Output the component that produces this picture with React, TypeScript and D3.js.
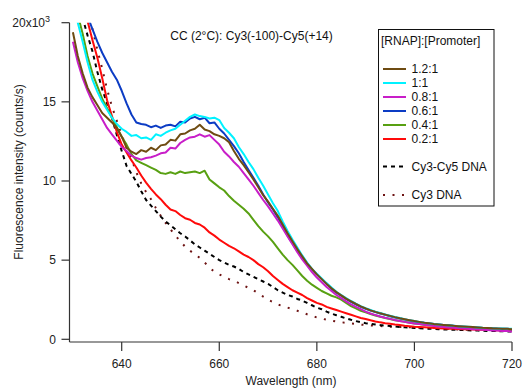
import React from "react";
import * as d3 from "d3";

const wavelength = [
  630, 631, 632, 633, 634, 635, 636, 637, 638, 639,
  640, 641, 642, 643, 644, 645, 646, 647, 648, 649,
  650, 651, 652, 653, 654, 655, 656, 657, 658, 659,
  660, 661, 662, 663, 664, 665, 666, 667, 668, 669,
  670, 671, 672, 673, 674, 675, 676, 677, 678, 679,
  680, 681, 682, 683, 684, 685, 686, 687, 688, 689,
  690, 691, 692, 693, 694, 695, 696, 697, 698, 699,
  700, 701, 702, 703, 704, 705, 706, 707, 708, 709,
  710, 711, 712, 713, 714, 715, 716, 717, 718, 719,
  720,
];

// values in thousands of counts/s
const ratio12 = [
  19.4, 17.9, 16.8, 15.9, 15.3, 14.8, 14.3, 14.0, 13.7, 13.35,
  12.8, 12.1, 11.85, 11.7, 11.95, 11.85, 12.1, 11.95, 12.25, 12.3,
  12.6, 12.55, 12.95, 13.0, 13.2, 13.3, 13.55, 13.25, 13.15, 12.95,
  12.85, 12.7, 12.45, 11.9, 11.4, 11.0, 10.55, 10.1, 9.6, 9.1,
  8.7, 8.25, 7.8, 7.25, 6.7, 6.2, 5.7, 5.25, 4.8, 4.45,
  4.1, 3.8, 3.5, 3.22, 2.98, 2.77, 2.57, 2.4, 2.23, 2.08,
  1.95, 1.83, 1.73, 1.64, 1.56, 1.48, 1.4, 1.33, 1.27, 1.21,
  1.15, 1.1, 1.05, 1.01, 0.97, 0.94, 0.91, 0.88, 0.85, 0.83,
  0.81, 0.79, 0.77, 0.75, 0.73, 0.72, 0.7, 0.69, 0.67, 0.66,
  0.64,
];
const ratio10 = [
  21.2, 20.0, 18.8, 17.5, 16.4, 15.65, 15.0, 14.5, 14.0, 13.6,
  13.3, 13.1, 12.85, 12.9, 12.7, 12.75, 12.6, 12.95, 12.85, 13.05,
  13.2, 13.3, 13.55, 13.8, 14.05, 14.2, 14.1, 14.05, 13.95, 14.0,
  13.85, 13.35, 13.05, 12.7, 12.15, 11.7, 11.2, 10.75, 10.2, 9.7,
  9.15, 8.6, 8.1, 7.45, 6.85, 6.3, 5.8, 5.3, 4.85, 4.45,
  4.15, 3.85, 3.55, 3.27, 3.0, 2.8, 2.6, 2.42, 2.25, 2.1,
  1.97, 1.85, 1.75, 1.66, 1.57, 1.49, 1.41, 1.34, 1.27, 1.21,
  1.15, 1.1, 1.05, 1.01, 0.97, 0.94, 0.91, 0.88, 0.86, 0.83,
  0.81, 0.79, 0.77, 0.75, 0.73, 0.72, 0.7, 0.69, 0.68, 0.67,
  0.66,
];
const ratio08 = [
  18.8, 17.5, 16.5, 15.7, 15.0, 14.45, 13.9, 13.35, 12.95, 12.55,
  12.15, 11.9, 11.6, 11.45, 11.35, 11.45, 11.5, 11.6, 11.75, 11.8,
  12.1, 12.05, 12.4, 12.6, 12.75, 12.8, 12.95, 12.8, 12.9, 12.6,
  12.3, 11.85, 11.55, 11.2, 10.9, 10.5, 10.1, 9.7, 9.25, 8.8,
  8.4, 7.95, 7.5, 7.0, 6.5, 6.0, 5.5, 5.05, 4.65, 4.25,
  3.9, 3.6, 3.3, 3.05, 2.8, 2.6, 2.4, 2.2, 2.05, 1.9,
  1.75, 1.63, 1.53, 1.44, 1.36, 1.29, 1.22, 1.16, 1.1, 1.05,
  1.0, 0.96, 0.92, 0.88, 0.84, 0.81, 0.78, 0.75, 0.73, 0.7,
  0.68, 0.66, 0.64, 0.62, 0.6, 0.58, 0.56, 0.55, 0.53, 0.52,
  0.5,
];
const ratio06 = [
  22.8, 22.0, 21.2, 20.4, 19.6, 18.8, 18.1, 17.5, 16.9, 16.4,
  15.7, 14.9, 14.2, 13.7, 13.6, 13.55, 13.4, 13.5, 13.35, 13.5,
  13.55, 13.45, 13.75, 13.7, 13.95, 14.05, 13.9, 14.0, 13.65, 13.7,
  13.3, 13.0, 12.6, 12.2, 11.75, 11.2, 10.7, 10.2, 9.7, 9.15,
  8.65, 8.2, 7.7, 7.1, 6.55, 6.05, 5.6, 5.15, 4.8, 4.4,
  4.1, 3.8, 3.5, 3.2, 2.95, 2.75, 2.55, 2.37, 2.2, 2.05,
  1.93, 1.82, 1.72, 1.63, 1.55, 1.46, 1.38, 1.32, 1.25, 1.19,
  1.13, 1.08, 1.04, 1.0, 0.96, 0.93, 0.9, 0.88, 0.85, 0.82,
  0.8, 0.78, 0.76, 0.74, 0.72, 0.71, 0.7, 0.68, 0.67, 0.66,
  0.64,
];
const ratio04 = [
  21.6, 20.5, 19.3, 17.9, 16.8, 16.0, 15.2, 14.6, 14.0, 13.4,
  12.8, 12.3, 11.7, 11.3, 11.15, 11.0, 10.85, 10.7, 10.5, 10.45,
  10.55, 10.45, 10.6, 10.5, 10.55, 10.6, 10.5, 10.65, 10.1, 9.85,
  9.6, 9.4, 9.05, 8.75, 8.5, 8.25, 7.95, 7.55, 7.15, 6.8,
  6.5, 6.15, 5.75, 5.35, 5.0, 4.7, 4.35, 4.0, 3.7, 3.45,
  3.25, 3.05, 2.9, 2.75, 2.65, 2.5, 2.3, 2.1, 1.95, 1.8,
  1.7, 1.6, 1.5, 1.42, 1.35, 1.28, 1.2, 1.15, 1.1, 1.05,
  1.0, 0.96, 0.92, 0.89, 0.86, 0.83, 0.8, 0.78, 0.76, 0.74,
  0.72, 0.7, 0.68, 0.67, 0.66, 0.64, 0.63, 0.62, 0.61, 0.6,
  0.59,
];
const ratio02 = [
  24.0, 22.7, 21.4, 20.1, 18.9, 17.8, 16.5, 15.1, 14.1, 13.1,
  12.3, 11.8, 11.3, 10.85, 10.35, 9.9, 9.5, 9.15, 8.85, 8.5,
  8.2, 8.1, 7.85, 7.65, 7.55, 7.35, 7.25, 7.05, 6.75, 6.55,
  6.3, 6.1, 5.9, 5.75, 5.55, 5.35, 5.2, 5.0, 4.75, 4.55,
  4.3, 4.0, 3.75, 3.5, 3.3, 3.1, 2.95, 2.8, 2.6, 2.45,
  2.3, 2.2, 2.05, 1.95, 1.85, 1.75, 1.65, 1.55, 1.45, 1.35,
  1.28, 1.2, 1.13, 1.07, 1.02, 0.98, 0.93, 0.9, 0.86, 0.83,
  0.8, 0.78, 0.76, 0.74, 0.72, 0.7, 0.68, 0.67, 0.66, 0.65,
  0.64, 0.63, 0.62, 0.61, 0.6, 0.59, 0.58, 0.57, 0.56, 0.56,
  0.55,
];
const cy3cy5DNA = [
  22.8, 21.5, 20.3, 19.2, 18.2, 16.9, 15.8, 14.9, 14.0, 12.9,
  11.9, 10.95, 10.45, 9.95, 9.35, 8.8, 8.45, 8.1, 7.75, 7.45,
  7.2, 6.95, 6.7, 6.5, 6.25, 6.0, 5.8, 5.6, 5.4, 5.2,
  5.0, 4.85, 4.7, 4.6, 4.45, 4.25, 4.1, 3.95, 3.8, 3.65,
  3.5, 3.3, 3.1, 2.95, 2.8, 2.7, 2.55, 2.45, 2.3, 2.15,
  2.0, 1.9, 1.75, 1.62, 1.52, 1.42, 1.32, 1.23, 1.15, 1.08,
  1.02, 0.98, 0.94, 0.9, 0.87, 0.84, 0.81, 0.78, 0.76, 0.74,
  0.72, 0.7, 0.68, 0.67, 0.65, 0.64, 0.62, 0.61, 0.6, 0.59,
  0.58, 0.57, 0.56, 0.55, 0.54, 0.53, 0.53, 0.52, 0.51, 0.5,
  0.5,
];
const cy3DNA = [
  24.3, 23.1, 22.0, 20.9, 19.6, 18.3, 17.1, 15.8, 14.7, 13.8,
  12.9, 12.1, 11.4, 10.55, 9.85, 9.3, 8.85, 8.3, 7.8, 7.35,
  6.95, 6.55, 6.2, 5.85, 5.6, 5.35, 5.15, 4.85, 4.55, 4.25,
  4.1, 3.95, 3.8, 3.7, 3.55, 3.4, 3.25, 3.1, 2.9, 2.7,
  2.5, 2.35, 2.2, 2.1, 2.0, 1.9, 1.8, 1.7, 1.58, 1.47,
  1.38, 1.3, 1.24, 1.18, 1.12, 1.08, 1.04, 1.0, 0.97, 0.93,
  0.9, 0.88, 0.86, 0.84, 0.82, 0.8, 0.79, 0.78, 0.77, 0.76,
  0.75, 0.73, 0.72, 0.7, 0.69, 0.67, 0.66, 0.65, 0.63, 0.62,
  0.61, 0.6, 0.59, 0.58, 0.57, 0.56, 0.55, 0.54, 0.53, 0.52,
  0.51,
];

const xTicks = [640, 660, 680, 700, 720];
const yTicks = [0, 5, 10, 15, 20];

const seriesNames = ["1.2:1", "1:1", "0.8:1", "0.6:1", "0.4:1", "0.2:1", "Cy3-Cy5 DNA", "Cy3 DNA"];
const seriesValues = [ratio12, ratio10, ratio08, ratio06, ratio04, ratio02, cy3cy5DNA, cy3DNA];
const seriesColors = ["#6e4b12", "#00f2ff", "#c81ec8", "#0c3cc4", "#58a012", "#ff0a0a", "#000000", "#6e1414"];
const seriesDash = ["", "", "", "", "", "", "4,4", "2,7.5"];
const drawOrder = [7, 6, 5, 4, 3, 2, 1, 0];

const FONT = "'Liberation Sans', Arial, Helvetica, sans-serif";

export default function App() {
  const x = d3.scaleLinear().domain([629.3, 720]).range([69.5, 512]);
  const y = d3.scaleLinear().domain([0, 20]).range([339.3, 22.7]);
  const xAxisY = 342;
  const line = (vals: number[]) =>
    d3
      .line<number>()
      .x((_, i) => x(wavelength[i]))
      .y((d) => y(d))(vals) as string;

  const legendRowsY = [69, 83, 97, 111, 125, 139, 166.5, 195];

  return (
    <svg
      width={524}
      height={390}
      style={{ position: "absolute", left: 0, top: 0, background: "#fff" }}
      fontFamily={FONT}
    >
      <defs>
        <clipPath id="plotClip">
          <rect x={69.5} y={y(20)} width={512 - 69.5} height={xAxisY - y(20)} />
        </clipPath>
      </defs>
      <rect x={0} y={0} width={524} height={390} fill="#fff" />

      <g clipPath="url(#plotClip)">
        {drawOrder.map((i) => (
          <path
            key={i}
            d={line(seriesValues[i])}
            fill="none"
            stroke={seriesColors[i]}
            strokeWidth={2}
            strokeDasharray={seriesDash[i] || undefined}
            strokeLinejoin="round"
          />
        ))}
      </g>

      {/* Y axis */}
      <line x1={69.5} x2={69.5} y1={y(20)} y2={xAxisY} stroke="#333" strokeWidth={1.2} />
      {yTicks.map((t) => (
        <g key={t}>
          <line x1={61.5} x2={69.5} y1={y(t)} y2={y(t)} stroke="#333" strokeWidth={1.2} />
          {t === 20 ? (
            <text x={50} y={y(t) + 4.5} textAnchor="end" fontSize={12} fill="#222">
              20x10
              <tspan fontSize={9} dy={-5}>3</tspan>
            </text>
          ) : (
            <text x={56} y={y(t) + 4.3} textAnchor="end" fontSize={12} fill="#222">
              {t}
            </text>
          )}
        </g>
      ))}
      <text
        transform={`translate(22.5,172) rotate(-90)`}
        textAnchor="middle"
        fontSize={12}
        fill="#222"
      >
        Fluorescence intensity (counts/s)
      </text>

      {/* X axis */}
      <line x1={69.5} x2={512} y1={xAxisY} y2={xAxisY} stroke="#333" strokeWidth={1.2} />
      {xTicks.map((t) => (
        <g key={t}>
          <line x1={x(t)} x2={x(t)} y1={xAxisY} y2={xAxisY + 9} stroke="#333" strokeWidth={1.2} />
          <text x={x(t)} y={367.5} textAnchor="middle" fontSize={12} fill="#222">
            {t}
          </text>
        </g>
      ))}
      <text x={291} y={384.5} textAnchor="middle" fontSize={12} fill="#222">
        Wavelength (nm)
      </text>

      {/* Title */}
      <text x={251.5} y={39.5} textAnchor="middle" fontSize={12} fill="#111">
        CC (2°C): Cy3(-100)-Cy5(+14)
      </text>

      {/* Legend */}
      <rect x={378.5} y={29.5} width={115.5} height={176.5} fill="#fff" stroke="#111" strokeWidth={1} />
      <text x={381} y={45} fontSize={12} fill="#111">
        [RNAP]:[Promoter]
      </text>
      {seriesNames.map((name, i) => (
        <g key={name}>
          <line
            x1={383}
            x2={406}
            y1={legendRowsY[i]}
            y2={legendRowsY[i]}
            stroke={seriesColors[i]}
            strokeWidth={2}
            strokeDasharray={seriesDash[i] || undefined}
          />
          <text x={411.5} y={legendRowsY[i] + 4.3} fontSize={12} fill="#111">
            {name}
          </text>
        </g>
      ))}
    </svg>
  );
}
